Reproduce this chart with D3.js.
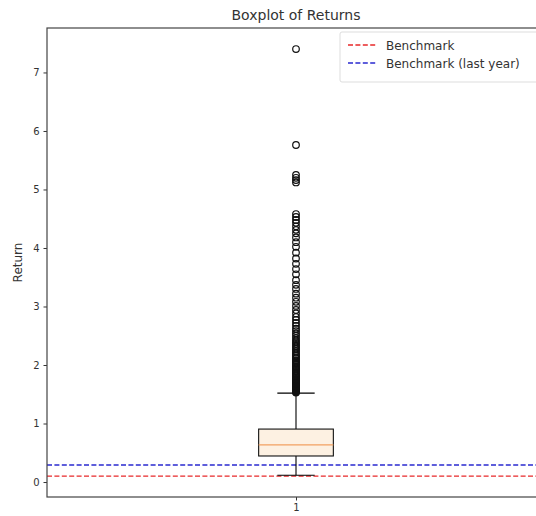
<!DOCTYPE html>
<html>
<head>
<meta charset="utf-8">
<script src="https://cdn.jsdelivr.net/npm/d3@7"></script>
<style>
  html, body { margin: 0; padding: 0; background: #fff; }
  svg { display: block; font-family: "DejaVu Sans", sans-serif; }
</style>
</head>
<body>
<svg id="chart" width="536" height="516"></svg>
<script>
// Box statistics of the return distribution
const categories = ["1"];
const quartiles = [0.445, 0.635, 0.905];      // Q1, median, Q3
const whiskers = [0.115, 1.52];               // lower, upper whisker ends
const outliers = [
  1.53, 1.54, 1.55, 1.56, 1.57, 1.58, 1.59, 1.60, 1.61, 1.62, 1.63, 1.64,
  1.65, 1.66, 1.68, 1.69, 1.70, 1.72, 1.73, 1.75, 1.76, 1.78, 1.79, 1.81,
  1.82, 1.84, 1.86, 1.88, 1.90, 1.92, 1.94, 1.96, 1.98, 2.00, 2.02, 2.04,
  2.06, 2.08, 2.11, 2.13, 2.16, 2.18, 2.21, 2.24, 2.27, 2.30, 2.33, 2.36,
  2.39, 2.42, 2.46, 2.50, 2.54, 2.58, 2.62, 2.67, 2.72, 2.77, 2.82, 2.88,
  2.94, 3.01, 3.08, 3.15, 3.22, 3.30, 3.37, 3.45, 3.55, 3.64, 3.73, 3.82,
  3.92, 4.02, 4.10, 4.18, 4.25, 4.31, 4.37, 4.43, 4.48, 4.53, 4.58,
  5.12, 5.16, 5.20, 5.25, 5.76, 7.40
];
const benchmarkLabels = ["Benchmark", "Benchmark (last year)"];
const benchmarkValues = [0.10, 0.29];
const benchmarkColors = ["#e8282a", "#2a2ad0"];
const yTicks = [0, 1, 2, 3, 4, 5, 6, 7];

const svg = d3.select("#chart");
const plot = { left: 47, right: 545, top: 28, bottom: 497 };

const x = d3.scalePoint().domain(categories).range([plot.left, plot.right]).padding(0.5);
const y = d3.scaleLinear().domain([-0.256, 7.76]).range([plot.bottom, plot.top]);

svg.append("defs").append("clipPath").attr("id", "plotclip")
  .append("rect").attr("x", plot.left).attr("y", plot.top)
  .attr("width", plot.right - plot.left).attr("height", plot.bottom - plot.top);

const g = svg.append("g").attr("clip-path", "url(#plotclip)");

// Benchmark reference lines
g.selectAll("line.bench").data(benchmarkValues).join("line")
  .attr("class", "bench")
  .attr("x1", plot.left).attr("x2", plot.right)
  .attr("y1", d => y(d)).attr("y2", d => y(d))
  .attr("stroke", (d, i) => benchmarkColors[i])
  .attr("stroke-width", 1.4)
  .attr("stroke-dasharray", "5,2.4");

const cx = x(categories[0]);
const boxW = (plot.right - plot.left) * 0.15;
const capW = boxW / 2;

// Whiskers
g.append("line").attr("x1", cx).attr("x2", cx)
  .attr("y1", y(quartiles[2])).attr("y2", y(whiskers[1]))
  .attr("stroke", "#000").attr("stroke-width", 1.1);
g.append("line").attr("x1", cx).attr("x2", cx)
  .attr("y1", y(quartiles[0])).attr("y2", y(whiskers[0]))
  .attr("stroke", "#000").attr("stroke-width", 1.1);
g.selectAll("line.cap").data(whiskers).join("line")
  .attr("class", "cap")
  .attr("x1", cx - capW / 2).attr("x2", cx + capW / 2)
  .attr("y1", d => y(d)).attr("y2", d => y(d))
  .attr("stroke", "#000").attr("stroke-width", 1.1);

// Box and median
g.append("rect")
  .attr("x", cx - boxW / 2).attr("width", boxW)
  .attr("y", y(quartiles[2])).attr("height", y(quartiles[0]) - y(quartiles[2]))
  .attr("fill", "#fdf1e2").attr("stroke", "#111").attr("stroke-width", 1.1);
g.append("line")
  .attr("x1", cx - boxW / 2).attr("x2", cx + boxW / 2)
  .attr("y1", y(quartiles[1])).attr("y2", y(quartiles[1]))
  .attr("stroke", "#f2a060").attr("stroke-width", 1.2);

// Fliers
g.selectAll("circle.flier").data(outliers).join("circle")
  .attr("class", "flier")
  .attr("cx", cx).attr("cy", d => y(d)).attr("r", 3.3)
  .attr("fill", "none").attr("stroke", "#111").attr("stroke-width", 1.2);

// Axes
const yAxis = d3.axisLeft(y).tickValues(yTicks).tickFormat(d3.format("d")).tickSize(3.5).tickPadding(4);
const yg = svg.append("g").attr("transform", `translate(${plot.left},0)`).call(yAxis);
yg.select(".domain").remove();
yg.selectAll("text").attr("font-size", 10).attr("fill", "#333").attr("font-family", "DejaVu Sans, sans-serif");
yg.selectAll("line").attr("stroke", "#333");

const xAxis = d3.axisBottom(x).tickSize(3.5).tickPadding(3);
const xg = svg.append("g").attr("transform", `translate(0,${plot.bottom})`).call(xAxis);
xg.select(".domain").remove();
xg.selectAll("text").attr("font-size", 10).attr("fill", "#333").attr("font-family", "DejaVu Sans, sans-serif");
xg.selectAll("line").attr("stroke", "#333");

// Spines
svg.append("rect")
  .attr("x", plot.left).attr("y", plot.top)
  .attr("width", plot.right - plot.left).attr("height", plot.bottom - plot.top)
  .attr("fill", "none").attr("stroke", "#444").attr("stroke-width", 1.2);

// Title and axis label
svg.append("text").attr("x", cx).attr("y", 20)
  .attr("text-anchor", "middle").attr("font-size", 14).attr("fill", "#333")
  .text("Boxplot of Returns");
svg.append("text")
  .attr("transform", `translate(22,${(plot.top + plot.bottom) / 2}) rotate(-90)`)
  .attr("text-anchor", "middle").attr("font-size", 12).attr("fill", "#333")
  .text("Return");

// Legend
const legend = svg.append("g").attr("transform", "translate(340,32)");
legend.append("rect").attr("x", 0).attr("y", 0).attr("width", 210).attr("height", 50)
  .attr("rx", 2).attr("fill", "#fff").attr("fill-opacity", 0.8)
  .attr("stroke", "#ddd").attr("stroke-width", 1);
const items = legend.selectAll("g.item").data(benchmarkLabels).join("g")
  .attr("class", "item")
  .attr("transform", (d, i) => `translate(0,${13 + i * 18})`);
items.append("line").attr("x1", 8).attr("x2", 36).attr("y1", 0).attr("y2", 0)
  .attr("stroke", (d, i) => benchmarkColors[i]).attr("stroke-width", 1.4)
  .attr("stroke-dasharray", "5,2.4");
items.append("text").attr("x", 46).attr("y", 4.5)
  .attr("font-size", 12).attr("fill", "#333").text(d => d);
</script>
</body>
</html>
